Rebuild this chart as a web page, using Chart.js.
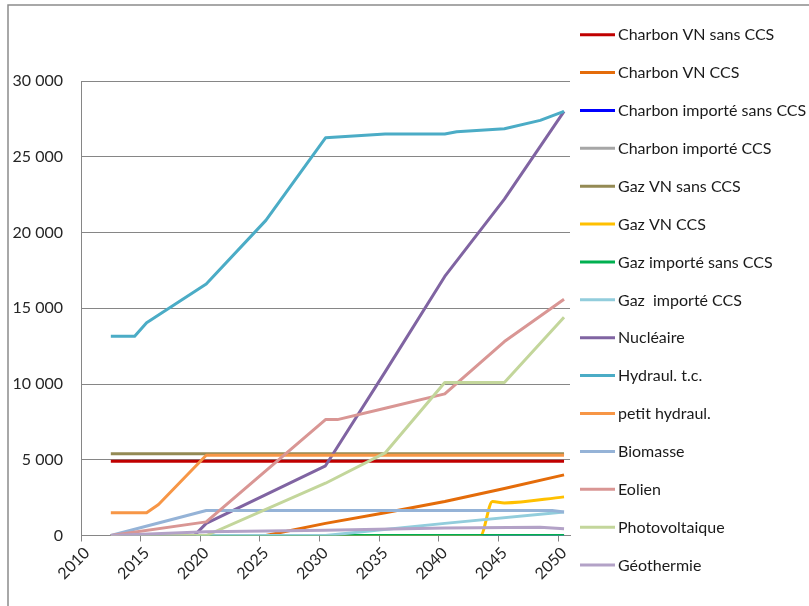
<!DOCTYPE html>
<html>
<head>
<meta charset="utf-8">
<script src="https://cdn.jsdelivr.net/npm/chart.js@4.4.0/dist/chart.umd.min.js"></script>
<style>
  html, body { margin: 0; padding: 0; background: #fff; }
  #wrap { position: relative; width: 809px; height: 606px; }
</style>
</head>
<body>
<div id="wrap"><canvas id="c" width="809" height="606"></canvas></div>
<script>
// ---- categories (x axis) ----
const years = [2010, 2011, 2012, 2013, 2014, 2015, 2016, 2017, 2018, 2019, 2020,
               2021, 2022, 2023, 2024, 2025, 2026, 2027, 2028, 2029, 2030,
               2031, 2032, 2033, 2034, 2035, 2036, 2037, 2038, 2039, 2040,
               2041, 2042, 2043, 2044, 2045, 2046, 2047, 2048, 2049, 2050];
const labeledYears = [2010, 2015, 2020, 2025, 2030, 2035, 2040, 2045, 2050];
const yTicks = [0, 5000, 10000, 15000, 20000, 25000, 30000];

// ---- series (years where the value was read, and the values) ----
const charbonVNSansYears = [2012, 2050];
const charbonVNSansValues = [4900, 4900];
const charbonVNCCSYears = [2012, 2025, 2030, 2035, 2040, 2045, 2050];
const charbonVNCCSValues = [0, 0, 800, 1500, 2250, 3100, 4000];
const charbonImpSansYears = [2012, 2050];
const charbonImpSansValues = [0, 0];
const charbonImpCCSYears = [2012, 2050];
const charbonImpCCSValues = [0, 0];
const gazVNSansYears = [2012, 2050];
const gazVNSansValues = [5400, 5400];
const gazVNCCSYears = [2012, 2042, 2043, 2044, 2045, 2050];
const gazVNCCSValues = [0, 0, 0, 2250, 2150, 2550];
const gazImpSansYears = [2012, 2050];
const gazImpSansValues = [0, 0];
const gazImpCCSYears = [2012, 2030, 2040, 2050];
const gazImpCCSValues = [0, 0, 800, 1550];
const nucleaireYears = [2012, 2019, 2020, 2025, 2030, 2035, 2040, 2045, 2050];
const nucleaireValues = [0, 0, 800, 2700, 4600, 10800, 17100, 22200, 28000];
const hydraulYears = [2012, 2014, 2015, 2020, 2025, 2030, 2035, 2040, 2041, 2045, 2048, 2050];
const hydraulValues = [13150, 13150, 14050, 16600, 20800, 26250, 26500, 26500, 26650, 26850, 27400, 28000];
const petitHydraulYears = [2012, 2015, 2016, 2020, 2050];
const petitHydraulValues = [1500, 1500, 2050, 5300, 5300];
const biomasseYears = [2012, 2020, 2049, 2050];
const biomasseValues = [0, 1650, 1650, 1550];
const eolienYears = [2012, 2020, 2030, 2031, 2035, 2040, 2045, 2050];
const eolienValues = [0, 900, 7650, 7650, 8400, 9350, 12800, 15600];
const photovoltaiqueYears = [2012, 2020, 2030, 2035, 2040, 2045, 2050];
const photovoltaiqueValues = [0, 0, 3450, 5450, 10100, 10100, 14400];
const geothermieYears = [2012, 2020, 2030, 2040, 2048, 2050];
const geothermieValues = [0, 250, 350, 500, 550, 450];

const seriesNames = ['Charbon VN sans CCS', 'Charbon VN CCS', 'Charbon importé sans CCS',
  'Charbon importé CCS', 'Gaz VN sans CCS', 'Gaz VN CCS', 'Gaz importé sans CCS',
  'Gaz  importé CCS', 'Nucléaire', 'Hydraul. t.c.', 'petit hydraul.', 'Biomasse',
  'Eolien', 'Photovoltaique', 'Géothermie'];
const seriesYears = [charbonVNSansYears, charbonVNCCSYears, charbonImpSansYears, charbonImpCCSYears,
  gazVNSansYears, gazVNCCSYears, gazImpSansYears, gazImpCCSYears, nucleaireYears, hydraulYears,
  petitHydraulYears, biomasseYears, eolienYears, photovoltaiqueYears, geothermieYears];
const seriesValues = [charbonVNSansValues, charbonVNCCSValues, charbonImpSansValues, charbonImpCCSValues,
  gazVNSansValues, gazVNCCSValues, gazImpSansValues, gazImpCCSValues, nucleaireValues, hydraulValues,
  petitHydraulValues, biomasseValues, eolienValues, photovoltaiqueValues, geothermieValues];
const seriesColors = ['#C00000', '#E46C0A', '#0000FF', '#A6A6A6', '#948A54', '#FFC000', '#00B050',
  '#92CDDC', '#8064A2', '#4BACC6', '#F79646', '#95B3D7', '#D99694', '#C3D69B', '#B3A2C7'];

const FONT = 'Lato, "Liberation Sans", sans-serif';

const datasets = seriesNames.map((name, i) => ({
  label: name,
  data: seriesYears[i].map((yr, k) => ({ x: String(yr), y: seriesValues[i][k] })),
  borderColor: seriesColors[i],
  backgroundColor: seriesColors[i],
  borderWidth: 3,
  pointRadius: 0,
  pointHoverRadius: 0,
  tension: 0,
  cubicInterpolationMode: i === 5 ? 'monotone' : 'default',
  borderJoinStyle: 'round',
  fill: false,
  order: -i
}));

const framePlugin = {
  id: 'frameAndLegend',
  beforeDraw(chart) {
    const ctx = chart.ctx;
    ctx.save();
    ctx.strokeStyle = '#8c8c8c';
    ctx.lineWidth = 1.5;
    ctx.beginPath();
    ctx.moveTo(8, 606);
    ctx.lineTo(8, 5);
    ctx.lineTo(809, 5);
    ctx.stroke();
    ctx.restore();
  },
  afterDraw(chart) {
    const ctx = chart.ctx;
    ctx.save();
    ctx.font = '16px ' + FONT;
    ctx.textBaseline = 'middle';
    ctx.textAlign = 'left';
    chart.data.datasets.forEach((ds, i) => {
      const y = 34.7 + i * 37.88;
      ctx.strokeStyle = ds.borderColor;
      ctx.lineWidth = 3;
      ctx.beginPath();
      ctx.moveTo(580, y);
      ctx.lineTo(615, y);
      ctx.stroke();
      ctx.fillStyle = '#1a1a1a';
      ctx.fillText(ds.label, 618, y + 0.5);
    });
    ctx.restore();
  }
};

new Chart(document.getElementById('c'), {
  type: 'line',
  data: { labels: years.map(String), datasets },
  options: {
    responsive: false,
    animation: false,
    devicePixelRatio: 1,
    layout: { padding: { top: 81, right: 239, bottom: 0, left: 0 } },
    plugins: { legend: { display: false }, tooltip: { enabled: false } },
    scales: {
      x: {
        type: 'category',
        offset: true,
        grid: {
          offset: true,
          drawOnChartArea: false,
          drawTicks: true,
          tickLength: 6,
          color: (c) => (c.index !== undefined && c.index % 5 === 0) ? '#868686' : 'rgba(0,0,0,0)',
          lineWidth: 1
        },
        border: { display: true, color: '#868686', width: 1 },
        ticks: {
          autoSkip: false,
          maxRotation: 45,
          minRotation: 45,
          padding: 2,
          color: '#262626',
          font: { family: FONT, size: 16 },
          callback: function (v, idx) {
            const lab = years[idx];
            return labeledYears.includes(lab) ? String(lab) : '';
          }
        },
        afterFit(scale) { scale.height = 70.5; }
      },
      y: {
        min: 0,
        max: 30000,
        afterBuildTicks(scale) { scale.ticks = yTicks.map(v => ({ value: v })); },
        grid: { color: '#868686', lineWidth: 1, drawTicks: false },
        border: { display: true, color: '#868686', width: 1 },
        ticks: {
          padding: 18,
          color: '#262626',
          font: { family: FONT, size: 16 },
          callback: (v) => String(v).replace(/\B(?=(\d{3})+(?!\d))/g, ' ')
        },
        afterFit(scale) { scale.width = 81; }
      }
    }
  },
  plugins: [framePlugin]
});
</script>
</body>
</html>
